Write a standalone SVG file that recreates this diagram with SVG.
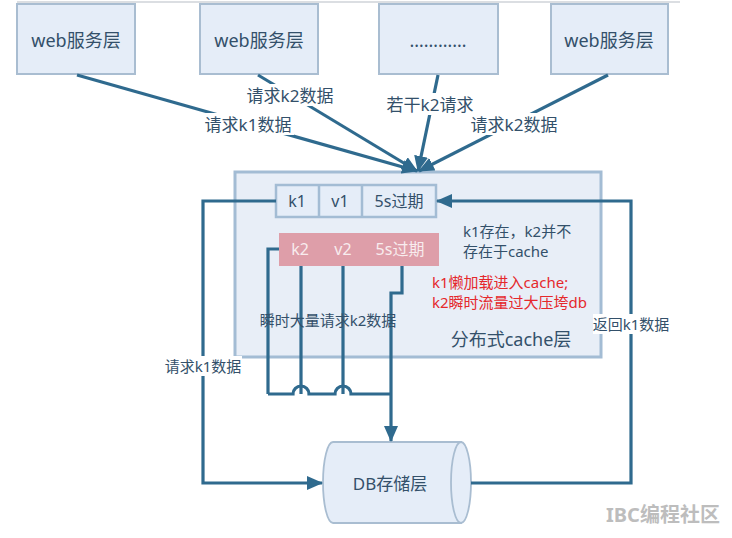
<svg xmlns="http://www.w3.org/2000/svg" width="732" height="538" viewBox="0 0 732 538">
<defs>
<marker id="arr" markerUnits="userSpaceOnUse" markerWidth="16" markerHeight="14" refX="15" refY="7" orient="auto">
<path d="M0,0 L16,7 L0,14 Z" fill="#2f6a8e"/>
</marker>
<style>
text{font-family:"Noto Sans","Noto Sans CJK SC",sans-serif;fill:#33506a;text-anchor:middle;dominant-baseline:central}
.box{fill:#e5edf8;stroke:#a9bdd1;stroke-width:2}
.ln{fill:none;stroke:#2f6a8e;stroke-width:3.2;stroke-linejoin:miter}
.bg{fill:#ffffff}
.l17{font-size:17px}
.l15{font-size:15px}
.red{fill:#e5282c}
.pk{fill:#f8ecee}
</style>
</defs>
<rect width="732" height="538" fill="#ffffff"/>
<line x1="17" y1="2" x2="680" y2="2" stroke="#cfd3d8" stroke-width="1.5"/>

<g id="web1"><rect class="box" x="17" y="4" width="118" height="70"/><text x="76" y="40" font-size="18">web服务层</text></g>
<g id="web2"><rect class="box" x="200" y="4" width="118" height="70"/><text x="259" y="40" font-size="18">web服务层</text></g>
<g id="web3"><rect class="box" x="379" y="4" width="119" height="70"/><text x="438" y="40" font-size="18">…………</text></g>
<g id="web4"><rect class="box" x="551" y="4" width="117" height="70"/><text x="609" y="40" font-size="18">web服务层</text></g>

<g id="cache">
<rect x="235" y="172" width="366" height="185" fill="#e8eef7" stroke="#a3bcd4" stroke-width="3"/>
<text x="511" y="339" font-size="18">分布式cache层</text>
<text x="463" y="231" class="l15" style="text-anchor:start">k1存在，k2并不</text>
<text x="463" y="251" class="l15" style="text-anchor:start">存在于cache</text>
<text x="432" y="282" class="l15 red" style="text-anchor:start">k1懒加载进入cache;</text>
<text x="432" y="302" class="l15 red" style="text-anchor:start">k2瞬时流量过大压垮db</text>
</g>

<g id="k1row">
<rect x="276" y="185" width="160" height="32" fill="#e5edf8" stroke="#a3bcd4" stroke-width="2.5"/>
<line x1="319" y1="185" x2="319" y2="217" stroke="#a3bcd4" stroke-width="2.5"/>
<line x1="362" y1="185" x2="362" y2="217" stroke="#a3bcd4" stroke-width="2.5"/>
<text x="297" y="201" font-size="16">k1</text>
<text x="340" y="201" font-size="16">v1</text>
<text x="399" y="201" font-size="16">5s过期</text>
</g>

<g id="k2row">
<rect x="279" y="233" width="160" height="33" fill="#de9ea9"/>
<text x="300" y="249" font-size="16" class="pk">k2</text>
<text x="343" y="249" font-size="16" class="pk">v2</text>
<text x="400" y="249" font-size="16" class="pk">5s过期</text>
</g>

<g id="db">
<path d="M333,442 H461 V523 H333 A10,40.5 0 0 1 333,442 Z" fill="#e5edf8" stroke="#a9bdd1" stroke-width="1.8"/>
<ellipse cx="461" cy="482.5" rx="10" ry="40.5" fill="#e5edf8" stroke="#a9bdd1" stroke-width="1.8"/>
<text x="390" y="483" font-size="17">DB存储层</text>
</g>

<g id="connectors">
<line class="ln" x1="77" y1="75" x2="417" y2="171" marker-end="url(#arr)"/>
<line class="ln" x1="258" y1="75" x2="417" y2="171" marker-end="url(#arr)"/>
<line class="ln" x1="438" y1="75" x2="418" y2="171" marker-end="url(#arr)"/>
<line class="ln" x1="608" y1="75" x2="419" y2="171" marker-end="url(#arr)"/>
<polyline class="ln" points="471,483 631,483 631,201 437,201" marker-end="url(#arr)"/>
<polyline class="ln" points="276,201 203,201 203,483 322,483" marker-end="url(#arr)"/>
<polyline class="ln" points="279,249 268,249 268,394"/>
<path class="ln" d="M268,394 H293 A8,8 0 0 1 309,394 H335 A8,8 0 0 1 351,394 H391"/>
<line class="ln" x1="301" y1="266" x2="301" y2="394"/>
<line class="ln" x1="343" y1="266" x2="343" y2="394"/>
<polyline class="ln" points="402,266 402,293 391,293 391,441" marker-end="url(#arr)"/>
</g>

<g id="labels">
<rect class="bg" x="201" y="113" width="93" height="22"/>
<text x="248" y="124" class="l17">请求k1数据</text>
<rect class="bg" x="244" y="84" width="93" height="22"/>
<text x="290" y="95" class="l17">请求k2数据</text>
<rect class="bg" x="388" y="93" width="85" height="22"/>
<text x="430" y="104" class="l17">若干k2请求</text>
<rect class="bg" x="467" y="113" width="93" height="22"/>
<text x="514" y="124" class="l17">请求k2数据</text>
<rect class="bg" x="593" y="314" width="76" height="20"/>
<text x="631" y="324" class="l15">返回k1数据</text>
<rect class="bg" x="164" y="356" width="78" height="20"/>
<text x="203" y="366" class="l15">请求k1数据</text>
<text x="328" y="320" class="l15">瞬时大量请求k2数据</text>
</g>

<text x="663" y="514" font-size="20" font-weight="bold" style="fill:#bdbdbd">IBC编程社区</text>
</svg>
